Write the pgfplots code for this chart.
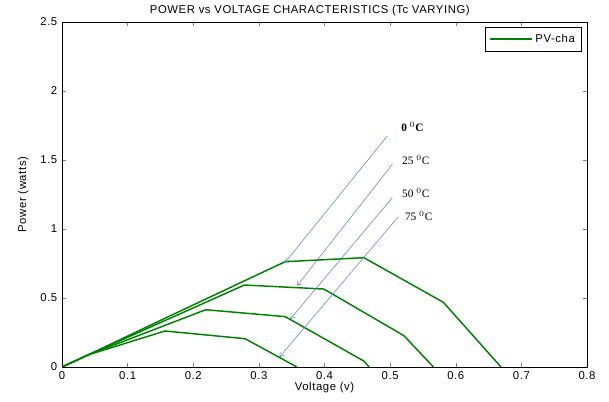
\documentclass[border=0pt]{standalone}
\usepackage{fontspec}
\setmainfont{Liberation Sans}[LetterSpace=5]
\newfontfamily\timesfont{Liberation Serif}
\usepackage{pgfplots}
\pgfplotsset{compat=1.18}
\usetikzlibrary{arrows.meta}
\definecolor{pvgreen}{RGB}{0,128,0}
\definecolor{arrowblue}{RGB}{84,130,196}
\begin{document}
\begin{tikzpicture}
\begin{axis}[
  at={(0,0)}, anchor=south west,
  scale only axis,
  width=393.75pt, height=258.75pt,
  xmin=0, xmax=0.8, ymin=0, ymax=2.5,
  xtick={0,0.1,...,0.8}, ytick={0,0.5,...,2.5},
  tick align=inside, tick pos=both,
  major tick length=3pt,
  tick label style={font=\fontsize{8.5}{10}\selectfont},
  /pgf/number format/assume math mode=true,
  xticklabel style={/pgf/number format/fixed},
  yticklabel style={/pgf/number format/fixed},
  xlabel={Voltage (v)}, ylabel={Power (watts)},
  label style={font=\fontsize{8.5}{10}\selectfont},
  xlabel style={yshift=5pt},
  ylabel style={yshift=2pt},
  title={POWER vs VOLTAGE CHARACTERISTICS (Tc VARYING)},
  title style={font=\fontsize{8.5}{10}\selectfont, yshift=-5pt, xshift=-11pt},
  legend style={at={(0.99,0.985)}, anchor=north east, font=\fontsize{8.5}{10}\selectfont,
    draw=black, inner sep=3pt, legend cell align=left},
  legend image code/.code={\draw[#1] (0cm,0cm) -- (1.1cm,0cm);},
]
\addplot[pvgreen, line width=1.1pt, no marks] coordinates {(0,0) (0.04,0.088) (0.16,0.36) (0.340,0.763) (0.460,0.792) (0.581,0.469) (0.669,0)};
\addlegendentry{PV-cha}
\addplot[pvgreen, line width=1.1pt, no marks] coordinates {(0,0) (0.04,0.088) (0.16,0.343) (0.278,0.594) (0.399,0.565) (0.521,0.227) (0.566,0)};
\addplot[pvgreen, line width=1.1pt, no marks] coordinates {(0,0) (0.04,0.088) (0.219,0.415) (0.340,0.365) (0.460,0.043) (0.468,0)};
\addplot[pvgreen, line width=1.1pt, no marks] coordinates {(0,0) (0.04,0.088) (0.157,0.261) (0.279,0.205) (0.358,0)};
\draw[arrowblue, line width=0.4pt, -{Straight Barb[length=3pt,width=4pt]}] (axis cs:0.4957,1.674) -- (axis cs:0.3405,0.761);
\draw[arrowblue, line width=0.4pt, -{Straight Barb[length=3pt,width=4pt]}] (axis cs:0.5034,1.469) -- (axis cs:0.3583,0.589);
\draw[arrowblue, line width=0.4pt, -{Straight Barb[length=3pt,width=4pt]}] (axis cs:0.5034,1.227) -- (axis cs:0.3481,0.348);
\draw[arrowblue, line width=0.4pt, -{Straight Barb[length=3pt,width=4pt]}] (axis cs:0.5125,1.089) -- (axis cs:0.3313,0.072);
\node[font=\timesfont\bfseries\fontsize{8.5}{9}\selectfont] at (axis cs:0.534,1.739) {0 $^{0}$C};
\node[font=\timesfont\fontsize{8.5}{9}\selectfont] at (axis cs:0.539,1.50) {25 $^{0}$C};
\node[font=\timesfont\fontsize{8.5}{9}\selectfont] at (axis cs:0.539,1.261) {50 $^{0}$C};
\node[font=\timesfont\fontsize{8.5}{9}\selectfont] at (axis cs:0.5435,1.094) {75 $^{0}$C};
\end{axis}
\useasboundingbox (-46.5pt,-26.25pt) rectangle (410.25pt,275.25pt);
\end{tikzpicture}
\end{document}
